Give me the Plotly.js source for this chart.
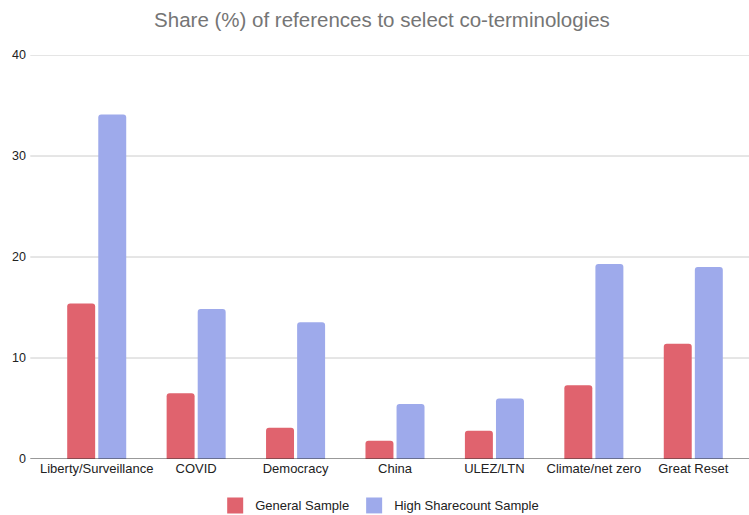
<!DOCTYPE html>
<html><head><meta charset="utf-8">
<script src="https://cdn.plot.ly/plotly-3.0.1.min.js"></script>
<style>body{margin:0;background:#fff}#c{width:749px;height:515px}</style>
</head><body><div id="c"></div>
<script>
const categories = ["Liberty/Surveillance","COVID","Democracy","China","ULEZ/LTN","Climate/net zero","Great Reset"];
const seriesNames = ["General Sample", "High Sharecount Sample"];
const generalSample = [15.4, 6.5, 3.1, 1.8, 2.8, 7.3, 11.4];
const highSharecount = [34.1, 14.85, 13.55, 5.45, 6.0, 19.3, 19.0];
const yTicks = [0, 10, 20, 30, 40];
const colors = ['#e0636e', '#9eaaeb'];

const gridShapes = yTicks.filter(v => v > 0).map(v => ({
  type: 'line', xref: 'paper', yref: 'y', x0: -0.024, x1: 1.01, y0: v, y1: v,
  line: {color: '#cccccc', width: 1}, layer: 'below'
}));
gridShapes.push({type:'line', xref:'paper', yref:'y', x0:-0.024, x1:1.01, y0:0, y1:0, line:{color:'#333333', width:1}, layer:'above'});

const traces = [
  {type:'bar', name:seriesNames[0], x:categories, y:generalSample, marker:{color:colors[0]}, showlegend:false},
  {type:'bar', name:seriesNames[1], x:categories, y:highSharecount, marker:{color:colors[1]}, showlegend:false},
  {type:'scatter', mode:'markers', name:seriesNames[0], x:[null], y:[null], marker:{symbol:'square', size:16, color:colors[0]}},
  {type:'scatter', mode:'markers', name:seriesNames[1], x:[null], y:[null], marker:{symbol:'square', size:16, color:colors[1]}}
];

Plotly.newPlot('c', traces, {
  width:749, height:515,
  margin:{l:47, r:6, t:55, b:56, autoexpand:false},
  paper_bgcolor:'#fff', plot_bgcolor:'#fff',
  font:{family:'Liberation Sans, Arial, sans-serif', size:13, color:'#222'},
  title:{text:'Share (%) of references to select co-terminologies', x:0.51, xanchor:'center', y:0.962, yanchor:'middle', font:{size:20.5, color:'#757575'}},
  barmode:'group', bargap:0.375, bargroupgap:0.1, barcornerradius:3,
  xaxis:{type:'category', showgrid:false, zeroline:false, showline:false, ticks:'', tickfont:{size:13, color:'#222'}},
  yaxis:{range:[0,40], tickvals:yTicks, showgrid:false, zeroline:false, showline:false, ticks:'', ticklabelstandoff:20, tickfont:{size:12.5, color:'#222'}},
  shapes: gridShapes,
  legend:{orientation:'h', x:0.478, xanchor:'center', y:-0.115, yanchor:'middle', font:{size:13, color:'#222'}},
  showlegend:true
}, {displayModeBar:false, staticPlot:true});
</script></body></html>
